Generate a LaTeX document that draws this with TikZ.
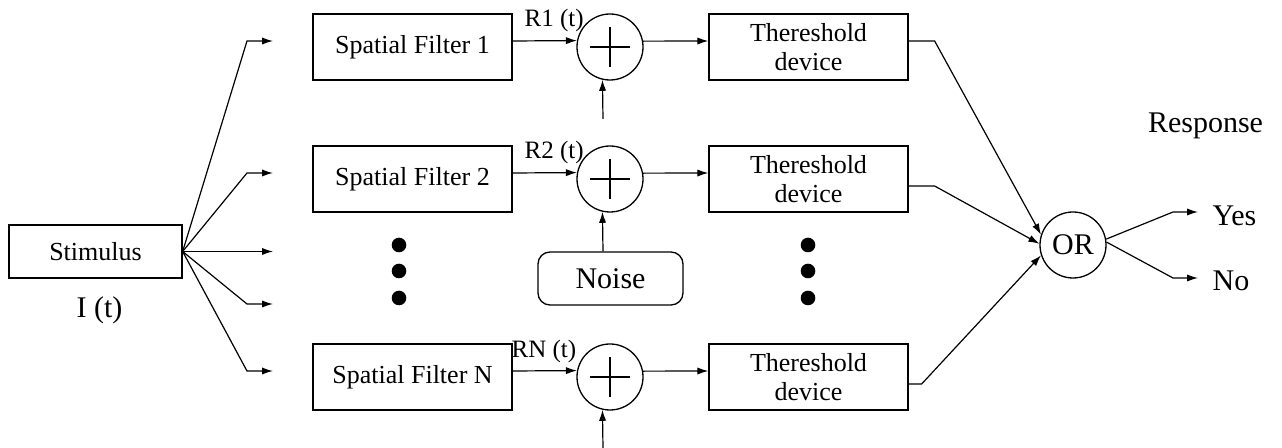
\documentclass[tikz,border=0pt]{standalone}
\usepackage{fontspec}
\setmainfont{Liberation Serif}
\usetikzlibrary{arrows.meta,calc}
\begin{document}
\begin{tikzpicture}[x=0.5pt,y=-0.5pt,
  line width=0.6pt,
  arr/.style={-{Latex[length=5.5pt,width=3.6pt]}},
  box/.style={draw,line width=0.65pt,minimum width=99.5pt,minimum height=33pt,inner sep=0pt,font=\fontsize{13}{14.5}\selectfont,align=center},
  sum/.style={draw,circle,minimum size=33pt,inner sep=0pt,line width=0.65pt},
  dot/.style={fill,circle,minimum size=7.3pt,inner sep=0pt},
  lbl/.style={font=\fontsize{12.5}{14}\selectfont,inner sep=0pt,anchor=base west},
  big/.style={font=\fontsize{15}{17}\selectfont,inner sep=0pt},
  plus/.style={line width=0.6pt}]
\useasboundingbox (0,0) rectangle (1282,448);

% stimulus
\node[box,minimum width=86.5pt,minimum height=26.5pt] (stim) at (95.5,251.5) {Stimulus};
\node[big,anchor=base] (it) at (99.5,318) {I (t)};

% fan-out ends
\coordinate (a1) at (273,41);
\coordinate (a2) at (273,173);
\coordinate (a3) at (273,251.5);
\coordinate (a4) at (273,304);
\coordinate (a5) at (273,371);
\draw[arr] (stim.east) -- (247,41) -- (a1);
\draw[arr] (stim.east) -- (247,173) -- (a2);
\draw[arr] (stim.east) -- (a3);
\draw[arr] (stim.east) -- (247,304) -- (a4);
\draw[arr] (stim.east) -- (247,371) -- (a5);

% spatial filters
\node[box] (f1) at (412.5,47) {Spatial Filter 1};
\node[box] (f2) at (412.5,179) {Spatial Filter 2};
\node[box] (fn) at (412.5,377) {Spatial Filter N};

% summing junctions
\node[sum] (s1) at (610,47) {};
\node[sum] (s2) at (610,179) {};
\node[sum] (sn) at (610,377) {};
\foreach \s in {s1,s2,sn}{
  \draw[plus] ([xshift=-10pt]\s.center) -- ([xshift=10pt]\s.center);
  \draw[plus] ([yshift=-10pt]\s.center) -- ([yshift=10pt]\s.center);
}

% threshold devices
\node[box] (t1) at (808.5,47) {Thereshold\\device};
\node[box] (t2) at (808.5,179) {Thereshold\\device};
\node[box] (tn) at (808.5,377) {Thereshold\\device};

% noise
\node[draw,rounded corners=6pt,minimum width=72.5pt,minimum height=26.5pt,big,line width=0.65pt] (noise) at (610.5,278.5) {Noise};

% OR
\node[sum,big] (or) at (1073,245) {OR};

% dots
\node[dot] (dl1) at (399,245) {};
\node[dot] (dl2) at (399,271) {};
\node[dot] (dl3) at (399,298) {};
\node[dot] (dr1) at (808,245) {};
\node[dot] (dr2) at (808,271) {};
\node[dot] (dr3) at (808,298) {};

% labels R
\node[lbl] (r1) at (524,27) {R1 (t)};
\node[lbl] (r2) at (524,159) {R2 (t)};
\node[lbl] (rn) at (511,358) {RN (t)};

% filter -> sum
\draw[arr] ([yshift=3pt]f1.east) -- (s1.169.5);
\draw[arr] ([yshift=3pt]f2.east) -- (s2.169.5);
\draw[arr] ([yshift=3pt]fn.east) -- (sn.169.5);

% sum -> threshold
\draw[arr] (s1.10.5) -- ([yshift=3pt]t1.west);
\draw[arr] (s2.10.5) -- ([yshift=3pt]t2.west);
\draw[arr] (sn.10.5) -- ([yshift=3pt]tn.west);

% noise inputs
\coordinate (n1) at (603,119);
\coordinate (nn) at (603,448);
\draw[arr] (n1) -- (s1.257.8);
\draw[arr] ([xshift=-3.75pt]noise.north) -- (s2.257.8);
\draw[arr] (nn) -- (sn.257.8);

% threshold -> OR
\draw[arr] ([yshift=3pt]t1.east) -- ++(26,0) -- (or.162);
\draw[arr] ([yshift=-3.5pt]t2.east) -- ++(26,0) -- (or.178);
\draw[arr] ([yshift=-3.5pt]tn.east) -- ++(13,0) -- (or.198);

% outputs
\coordinate (yes) at (1198,212);
\coordinate (no) at (1198,278);
\draw[arr] (or.10) -- (1173,212) -- (yes);
\draw[arr] (or.5) -- (1173,278) -- (no);
\node[big,anchor=base west] (yt) at (1212,226) {Yes};
\node[big,anchor=base west] (nt) at (1212,291) {No};
\node[big,anchor=base] (resp) at (1205.5,133) {Response};
\end{tikzpicture}
\end{document}
